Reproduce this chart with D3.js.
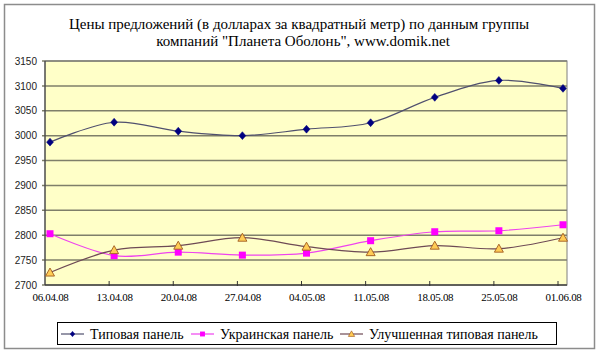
<!DOCTYPE html>
<html><head><meta charset="utf-8">
<script src="https://cdn.jsdelivr.net/npm/d3@7"></script>
</head><body style="margin:0">
<svg id="c" width="600" height="354" style="font-family:'Liberation Serif'"></svg>
<script>
const dates = ["06.04.08","13.04.08","20.04.08","27.04.08","04.05.08","11.05.08","18.05.08","25.05.08","01.06.08"];
const typical = [2987,3027,3009,3000,3013,3026,3077,3111,3095];
const ukrainian = [2803,2759,2766,2760,2764,2789,2807,2809,2821];
const improved = [2725,2770,2779,2795,2777,2766,2779,2773,2795];
const yTicks = [2700,2750,2800,2850,2900,2950,3000,3050,3100,3150];
const seriesNames = ["Типовая панель","Украинская панель","Улучшенная типовая панель"];
const titleLines = ["Цены предложений (в долларах за квадратный метр) по данным группы","компаний \"Планета Оболонь\", www.domik.net"];

const SERIF = "'Liberation Serif'";
const SANS = "'Liberation Sans'";
const svg = d3.select("#c");
const plot = {l:45, r:567, t:61, b:285};
const x = d3.scalePoint().domain(dates).range([50, 563]);
const y = d3.scaleLinear().domain([2700,3150]).range([plot.b, plot.t]);

// outer border
svg.append("rect").attr("x",4.5).attr("y",4.5).attr("width",590).attr("height",344)
  .attr("fill","#fff").attr("stroke","#8c8c8c").attr("stroke-width",1.5);

// title
titleLines.forEach((t,i)=>svg.append("text").style("font-family",SERIF).style("font-size","15px")
  .attr("text-anchor","middle").attr("fill","#000").attr("x",i===0?299:303).attr("y",29+i*17).text(t));

// plot bg
svg.append("rect").attr("x",plot.l).attr("y",plot.t).attr("width",plot.r-plot.l).attr("height",plot.b-plot.t)
  .attr("fill","#ffffc8");

// gridlines
svg.append("g").selectAll("line").data(yTicks).join("line")
  .attr("x1",plot.l-3).attr("x2",plot.r).attr("y1",d=>y(d)).attr("y2",d=>y(d))
  .attr("stroke","#7f7f6a").attr("stroke-width",1.5);

// plot border
svg.append("rect").attr("x",plot.l).attr("y",plot.t).attr("width",plot.r-plot.l).attr("height",plot.b-plot.t)
  .attr("fill","none").attr("stroke","#7f7f7f").attr("stroke-width",1);
svg.append("line").attr("x1",plot.l).attr("x2",plot.l).attr("y1",plot.t).attr("y2",plot.b)
  .attr("stroke","#333").attr("stroke-width",1);
svg.append("line").attr("x1",plot.l).attr("x2",plot.r).attr("y1",plot.b).attr("y2",plot.b)
  .attr("stroke","#333").attr("stroke-width",1);

// y axis labels
const yAxis = d3.axisLeft(y).tickValues(yTicks).tickFormat(d3.format("d")).tickSize(0).tickPadding(8);
const yg = svg.append("g").attr("transform",`translate(${plot.l},0)`).call(yAxis);
yg.select(".domain").remove();
yg.selectAll("text").style("font-family",SANS).style("font-size","10px").attr("fill","#222");

// x axis
const xAxis = d3.axisBottom(x).tickSize(0).tickPadding(8);
const xg = svg.append("g").attr("transform",`translate(0,${plot.b})`).call(xAxis);
xg.select(".domain").remove();
xg.selectAll("text").style("font-family",SERIF).style("font-size","11px").attr("fill","#000")
  .style("letter-spacing","-0.3px");
// tick marks
svg.append("g").selectAll("line").data(dates.slice(1)).join("line")
  .attr("x1",d=>x(d)-5).attr("x2",d=>x(d)-5).attr("y1",plot.b-4).attr("y2",plot.b+1)
  .attr("stroke","#333");

const curve = d3.curveCatmullRom.alpha(0);
const line = d3.line().x((d,i)=>x(dates[i])).y(d=>y(d)).curve(curve);

const series = [
  {name:seriesNames[0], vals:typical, line:"#50506e", mark:"diamond", fill:"#000080", stroke:"#000080"},
  {name:seriesNames[1], vals:ukrainian, line:"#ee44ee", mark:"square", fill:"#ff00ff", stroke:"#ff00ff"},
  {name:seriesNames[2], vals:improved, line:"#6e4a55", mark:"triangle", fill:"#ffcc55", stroke:"#a05a20"}
];

function marker(g, type, fill, stroke){
  if(type==="diamond") g.append("path").attr("d",d3.symbol(d3.symbolDiamond2,30)()).attr("fill",fill).attr("stroke",stroke).attr("stroke-width",0.5).attr("transform","scale(1,1.15)");
  else if(type==="square") g.append("rect").attr("x",-3.5).attr("y",-3.5).attr("width",7).attr("height",7).attr("fill",fill);
  else g.append("path").attr("d","M0,-4.5L4.5,3.5L-4.5,3.5Z").attr("fill",fill).attr("stroke",stroke).attr("stroke-width",0.9);
}

series.forEach(s=>{
  svg.append("path").attr("d",line(s.vals)).attr("fill","none").attr("stroke",s.line).attr("stroke-width",1.2);
});
series.forEach(s=>{
  s.vals.forEach((v,i)=>{
    const g = svg.append("g").attr("transform",`translate(${x(dates[i])},${y(v)})`);
    marker(g,s.mark,s.fill,s.stroke);
  });
});

// legend
svg.append("rect").attr("x",57.5).attr("y",322.5).attr("width",499).attr("height",22)
  .attr("fill","#fff").attr("stroke","#000").attr("stroke-width",1);
const legX = [61,191,340];
series.forEach((s,i)=>{
  const lx = legX[i], ly = 334;
  svg.append("line").attr("x1",lx).attr("x2",lx+23).attr("y1",ly).attr("y2",ly).attr("stroke",s.line).attr("stroke-width",1.2);
  const g = svg.append("g").attr("transform",`translate(${lx+11.5},${ly}) scale(0.7)`);
  marker(g,s.mark,s.fill,s.stroke);
  svg.append("text").style("font-family",SERIF).style("font-size","14px").attr("x",lx+29).attr("y",ly+5)
    .attr("fill","#000").text(s.name);
});
</script>
</body></html>
